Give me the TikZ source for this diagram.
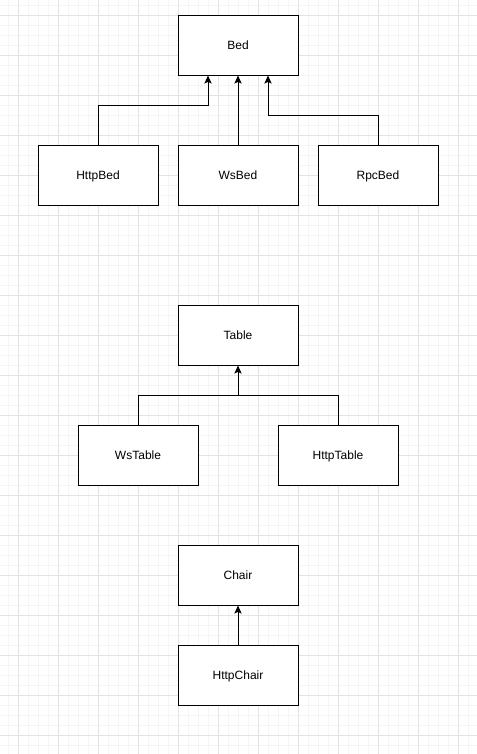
\documentclass[tikz,border=0pt]{standalone}
\usepackage{fontspec}
\setmainfont{Liberation Sans}
\usetikzlibrary{arrows.meta,calc}
\begin{document}
\begin{tikzpicture}[x=0.75pt,y=-0.75pt,
  cls/.style={draw=black,line width=0.75pt,fill=white,minimum width=90pt,minimum height=45pt,inner sep=0pt,text height=6.45pt,text depth=0pt,font=\fontsize{9pt}{11pt}\selectfont},
  arr/.style={line width=0.75pt,-{Stealth[length=6pt,width=5.4pt,inset=1.2pt]}},
  ln/.style={line width=0.75pt}]
\useasboundingbox (0,0) rectangle (477,754);
\fill[white] (0,0) rectangle (477,754);
% minor grid
\foreach \x in {8,18,...,477} \draw[line width=0.75pt,color=black!4] (\x,0) -- (\x,754);
\foreach \y in {5,15,...,754} \draw[line width=0.75pt,color=black!4] (0,\y) -- (477,\y);
% major grid
\foreach \x in {18,58,...,477} \draw[line width=0.75pt,color=black!11] (\x,0) -- (\x,754);
\foreach \y in {15,55,...,754} \draw[line width=0.75pt,color=black!11] (0,\y) -- (477,\y);
% nodes
\node[cls] (bed) at (238,45) {Bed};
\node[cls] (httpbed) at (98,175) {HttpBed};
\node[cls] (wsbed) at (238,175) {WsBed};
\node[cls] (rpcbed) at (378,175) {RpcBed};
\node[cls] (table) at (238,335) {Table};
\node[cls] (wstable) at (138,455) {WsTable};
\node[cls] (httptable) at (338,455) {HttpTable};
\node[cls] (chair) at (238,575) {Chair};
\node[cls] (httpchair) at (238,675) {HttpChair};
% connectors
\coordinate (bedL) at ($(bed.south)+(-30,0)$);
\coordinate (bedR) at ($(bed.south)+(30,0)$);
\draw[arr] (httpbed.north) |- ($(bedL)+(0,30)$) -- (bedL);
\draw[arr] (wsbed.north) -- (bed.south);
\draw[arr] (rpcbed.north) |- ($(bedR)+(0,40)$) -- (bedR);
\coordinate (tj) at ($(table.south)+(0,30)$);
\draw[ln] (wstable.north) |- (tj);
\draw[ln] (httptable.north) |- (tj);
\draw[arr] (tj) -- (table.south);
\draw[arr] (httpchair.north) -- (chair.south);
\end{tikzpicture}
\end{document}
